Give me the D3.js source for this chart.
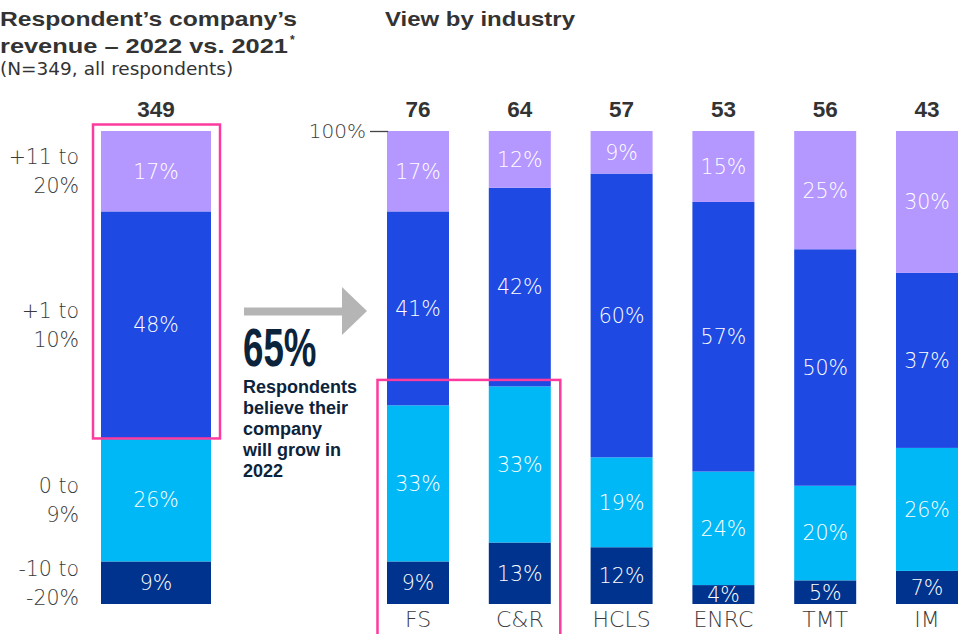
<!DOCTYPE html>
<html><head><meta charset="utf-8">
<script src="https://cdn.jsdelivr.net/npm/d3@7"></script>
<style>body{margin:0;background:#fff;} svg{display:block;}</style>
</head><body>
<svg id="chart" width="964" height="634"></svg>
<script>
// ---- data ----
const seriesKeys = ["decline", "grow0to9", "grow1to10", "grow11to20"];
const bandLabels = [["-10 to", "-20%"], ["0 to", "9%"], ["+1 to", "10%"], ["+11 to", "20%"]];
const overallN = 349;
const overallValues = [9, 26, 48, 17];
const industries = ["FS", "C&R", "HCLS", "ENRC", "TMT", "IM"];
const industryN = [76, 64, 57, 53, 56, 43];
const decline = [9, 13, 12, 4, 5, 7];
const grow0to9 = [33, 33, 19, 24, 20, 26];
const grow1to10 = [41, 42, 60, 57, 50, 37];
const grow11to20 = [17, 12, 9, 15, 25, 30];
const tickValues = [100];
const colors = ["#00338d", "#00b8f5", "#1e49e2", "#b497ff"];

const svg = d3.select("#chart");
const LIGHT = "'DejaVu Sans', Roboto, sans-serif";
const BOLD = "'Liberation Sans', Arial, sans-serif";

// ---- scales ----
const y = d3.scaleLinear().domain([0, 100]).range([604, 131]);
const xL = d3.scaleBand().domain(["all"]).range([101, 211]);
const xR = d3.scaleBand().domain(industries).range([387, 958]).paddingInner(0.391).paddingOuter(0);
const color = d3.scaleOrdinal().domain(seriesKeys).range(colors);

const stack = d3.stack().keys(seriesKeys);
const overallRow = [Object.fromEntries(seriesKeys.map((k, i) => [k, overallValues[i]]))];
overallRow[0].cat = "all";
const indRows = industries.map((c, i) => ({cat: c, decline: decline[i], grow0to9: grow0to9[i], grow1to10: grow1to10[i], grow11to20: grow11to20[i]}));

function drawStack(rows, x, gClass) {
  const series = stack(rows);
  const g = svg.append("g").attr("class", gClass);
  series.forEach(s => {
    g.selectAll(null).data(s).join("rect")
      .attr("x", d => x(d.data.cat))
      .attr("width", x.bandwidth())
      .attr("y", d => y(d[1]))
      .attr("height", d => y(d[0]) - y(d[1]))
      .attr("fill", color(s.key));
    g.selectAll(null).data(s).join("text")
      .attr("x", d => x(d.data.cat) + x.bandwidth() / 2)
      .attr("y", d => (y(d[0]) + y(d[1])) / 2)
      .attr("dy", "0.36em")
      .attr("text-anchor", "middle")
      .attr("fill", "#fff")
      .attr("font-family", LIGHT)
      .attr("font-weight", 300)
      .attr("font-size", 20.5)
      .text(d => (d[1] - d[0]) + "%");
  });
}
drawStack(overallRow, xL, "left");
drawStack(indRows, xR, "right");

// counts
svg.append("text").attr("x", xL("all") + xL.bandwidth() / 2).attr("y", 117)
  .attr("text-anchor", "middle").attr("font-family", BOLD).attr("font-weight", 700)
  .attr("font-size", 22.5).attr("fill", "#333").text(overallN);
svg.selectAll(".cnt").data(industries).join("text").attr("class", "cnt")
  .attr("x", d => xR(d) + xR.bandwidth() / 2).attr("y", 117)
  .attr("text-anchor", "middle").attr("font-family", BOLD).attr("font-weight", 700)
  .attr("font-size", 22.5).attr("fill", "#333").text((d, i) => industryN[i]);

// category labels (bottom)
const xAxis = d3.axisBottom(xR).tickSize(0).tickPadding(0);
const ax = svg.append("g").attr("transform", "translate(0,606)").call(xAxis);
ax.select(".domain").remove();
ax.selectAll("text").attr("font-family", LIGHT).attr("font-weight", 300)
  .attr("font-size", 22).attr("fill", "#3a3a3a").attr("dy", "0.95em");

// left band labels
const ovStack = stack(overallRow);
ovStack.forEach((s, i) => {
  const mid = (y(s[0][0]) + y(s[0][1])) / 2;
  const t = svg.append("text").attr("text-anchor", "end")
    .attr("font-family", LIGHT).attr("font-weight", 300).attr("font-size", 20.5)
    .attr("fill", "#3a3a3a");
  t.append("tspan").attr("x", 79).attr("y", mid - 14.5).attr("dy", "0.36em").text(bandLabels[i][0]);
  t.append("tspan").attr("x", 79).attr("y", mid + 14.5).attr("dy", "0.36em").text(bandLabels[i][1]);
});

// 100% tick
const yAxis = d3.axisLeft(y).tickValues(tickValues).tickSize(18).tickPadding(4).tickFormat(d => d + "%");
const yax = svg.append("g").attr("transform", "translate(388,0)").call(yAxis);
yax.select(".domain").remove();
yax.selectAll("line").attr("stroke", "#444").attr("stroke-width", 1.3);
yax.selectAll("text").attr("font-family", LIGHT).attr("font-weight", 300)
  .attr("font-size", 20).attr("fill", "#3a3a3a");

// highlight boxes
const pink = "#fd3a9d";
svg.append("rect")
  .attr("x", xL("all") - 8).attr("y", y(100) - 6.5)
  .attr("width", xL.bandwidth() + 17).attr("height", y(overallValues[0] + overallValues[1]) - y(100) + 6.5)
  .attr("fill", "none").attr("stroke", pink).attr("stroke-width", 2.5);
svg.append("rect")
  .attr("x", xR("FS") - 9.5).attr("y", y(decline[1] + grow0to9[1]) - 6.5)
  .attr("width", xR("C&R") + xR.bandwidth() + 9.5 - (xR("FS") - 9.5))
  .attr("height", 300)
  .attr("fill", "none").attr("stroke", pink).attr("stroke-width", 2.5);

// arrow
svg.append("path")
  .attr("d", "M244,307.5 L342,307.5 L342,287 L367,311 L342,335 L342,315.5 L244,315.5 Z")
  .attr("fill", "#b5b5b5");

// big callout
svg.append("text").attr("transform", "translate(243,366) scale(0.68,1)")
  .attr("font-family", BOLD).attr("font-weight", 700).attr("font-size", 54)
  .attr("fill", "#0c233c").text("65%");
const callLines = ["Respondents", "believe their", "company", "will grow in", "2022"];
svg.selectAll(".call").data(callLines).join("text").attr("class", "call")
  .attr("x", 243).attr("y", (d, i) => 393 + i * 21)
  .attr("font-family", BOLD).attr("font-weight", 700).attr("font-size", 18)
  .attr("fill", "#0c233c").text(d => d);

// titles
const tt = svg.append("text").attr("font-family", BOLD).attr("font-weight", 700)
  .attr("font-size", 21).attr("fill", "#333");
tt.append("tspan").attr("x", 0).attr("y", 26)
  .attr("textLength", 297).attr("lengthAdjust", "spacingAndGlyphs").text("Respondent’s company’s");
svg.append("text").attr("x", 0).attr("y", 53).attr("font-family", BOLD).attr("font-weight", 700)
  .attr("font-size", 21).attr("fill", "#333")
  .attr("textLength", 288).attr("lengthAdjust", "spacingAndGlyphs").text("revenue – 2022 vs. 2021");
svg.append("text").attr("x", 290).attr("y", 44).attr("font-family", BOLD).attr("font-weight", 700)
  .attr("font-size", 12).attr("fill", "#333").text("*");
svg.append("text").attr("x", 0).attr("y", 75).attr("font-family", LIGHT).attr("font-weight", 400)
  .attr("font-size", 18.5).attr("fill", "#333").text("(N=349, all respondents)");
svg.append("text").attr("x", 385).attr("y", 26).attr("font-family", BOLD).attr("font-weight", 700)
  .attr("font-size", 21).attr("fill", "#333")
  .attr("textLength", 190).attr("lengthAdjust", "spacingAndGlyphs").text("View by industry");
</script>
</body></html>
